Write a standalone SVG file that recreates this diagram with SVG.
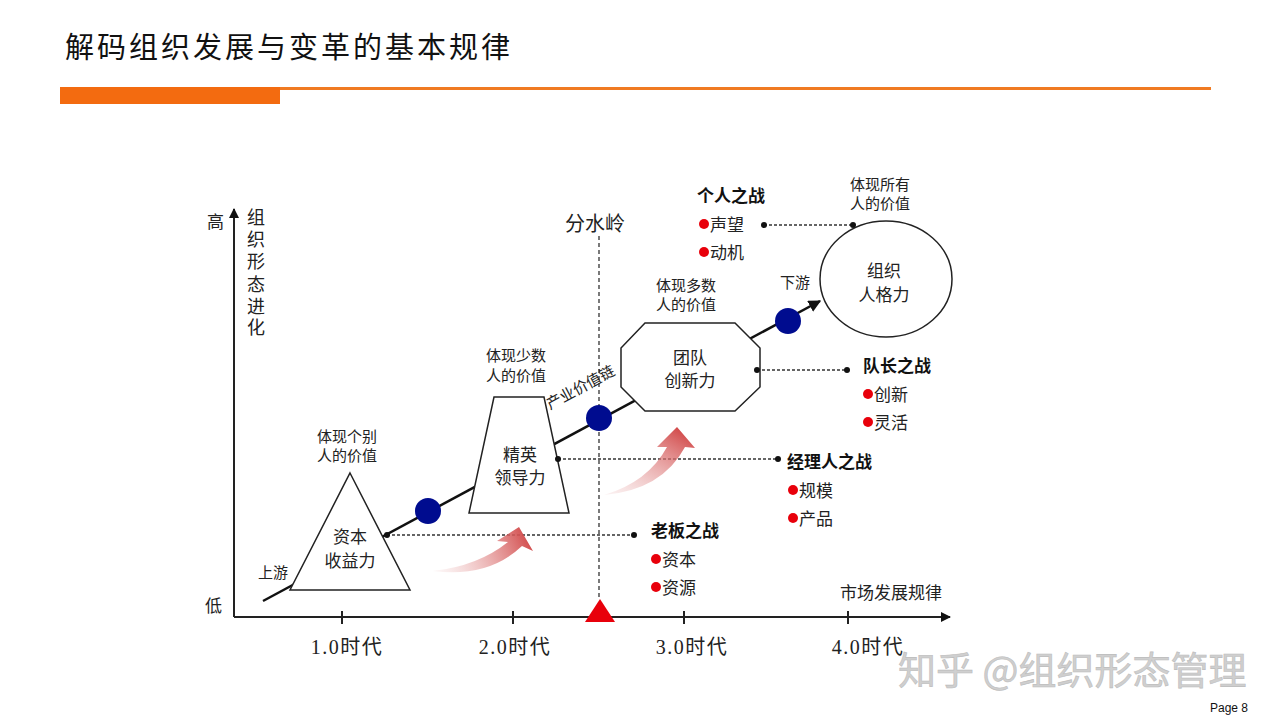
<svg xmlns="http://www.w3.org/2000/svg" width="1280" height="720" viewBox="0 0 1280 720">
<defs>
<style>
text{font-family:"Liberation Serif","Noto Sans CJK SC",serif;fill:#222}
.s15{font-size:15px}
.s17{font-size:17px}
.b{font-size:17px;font-weight:bold;fill:#111}
.c{text-anchor:middle}
.ax{stroke:#222;stroke-width:2;fill:none}
.dash{stroke:#333;stroke-width:1.3;stroke-dasharray:3 2;fill:none}
.shape{fill:#fff;stroke:#222;stroke-width:1.5}
.blue{fill:#000c8f}
.red{fill:#e8000b}
.dot{fill:#111}
</style>
<marker id="arr" viewBox="0 0 10 10" refX="9" refY="5" markerWidth="5" markerHeight="5" orient="auto"><path d="M0,0 L10,5 L0,10 Z" fill="#111"/></marker>
<linearGradient id="g1" x1="0" y1="0.6" x2="1" y2="0.4"><stop offset="0" stop-color="#e9b0b0" stop-opacity="0.15"/><stop offset="1" stop-color="#d24a4a"/></linearGradient>
<linearGradient id="g2" x1="0" y1="1" x2="0.8" y2="0"><stop offset="0" stop-color="#e9b0b0" stop-opacity="0.15"/><stop offset="1" stop-color="#d24a4a"/></linearGradient>
</defs>
<rect width="1280" height="720" fill="#fff"/>
<g id="header">
<text x="65" y="58" style="font-family:'Noto Sans CJK SC',sans-serif;font-size:29px;letter-spacing:3px;fill:#111">解码组织发展与变革的基本规律</text>
<rect x="60" y="87" width="220" height="17" fill="#f36b10"/>
<rect x="280" y="87" width="931" height="3" fill="#f07a22"/>
</g>
<g id="axes">
<line class="ax" x1="234" y1="617" x2="234" y2="209" marker-end="url(#arr)"/>
<line class="ax" x1="234" y1="617" x2="950" y2="617" marker-end="url(#arr)"/>
<line class="ax" x1="342" y1="611" x2="342" y2="624"/>
<line class="ax" x1="513" y1="611" x2="513" y2="624"/>
<line class="ax" x1="684" y1="611" x2="684" y2="624"/>
<line class="ax" x1="848" y1="611" x2="848" y2="624"/>
<text class="s17" x="207" y="228">高</text>
<text class="s17" x="205" y="612">低</text>
<g class="c" style="font-size:18px">
<text x="256" y="224">组</text><text x="256" y="246">织</text><text x="256" y="268">形</text><text x="256" y="291">态</text><text x="256" y="313">进</text><text x="256" y="334">化</text>
</g>
<text class="s17" x="840" y="599">市场发展规律</text>
<g style="font-size:20px;letter-spacing:1.5px" class="c">
<text x="347" y="654">1.0时代</text><text x="515" y="654">2.0时代</text><text x="692" y="654">3.0时代</text><text x="868" y="654">4.0时代</text>
</g>
</g>
<g id="watershed">
<line class="dash" x1="599" y1="236" x2="599" y2="600" style="stroke-dasharray:4 3"/>
<text x="565" y="231" style="font-size:20px">分水岭</text>
<polygon class="red" points="600,599 615,622 585,622"/>
</g>
<g id="connectors">
<line x1="263" y1="601" x2="820" y2="301" stroke="#111" stroke-width="2.5" marker-end="url(#arr)"/>
<line class="dash" x1="764" y1="225" x2="853" y2="225"/>
<line class="dash" x1="757" y1="370" x2="847" y2="370"/>
<line class="dash" x1="558" y1="459" x2="778" y2="459"/>
<line class="dash" x1="387" y1="535" x2="634" y2="535"/>
</g>
<g id="arrows">
<path d="M433,571 Q488,578 522,546 L533,551 L519,527 L497,541 L508,542 Q478,566 433,571 Z" fill="url(#g1)"/>
<path d="M604,495 Q662,490 685,447 L695,448 L677,427 L657,447 L667,447 Q648,482 604,495 Z" fill="url(#g2)"/>
</g>
<g id="node-capital">
<polygon class="shape" points="350,473 410,590 290,590"/>
<text class="s17 c" x="350" y="543">资本</text>
<text class="s17 c" x="350" y="567">收益力</text>
<text class="s15 c" x="347" y="442">体现个别</text>
<text class="s15 c" x="347" y="461">人的价值</text>
<text class="s15" x="258" y="578">上游</text>
</g>
<g id="node-elite">
<polygon class="shape" points="494,397 544,397 569,513 469,513"/>
<text class="s17 c" x="520" y="461">精英</text>
<text class="s17 c" x="520" y="484">领导力</text>
<text class="s15 c" x="516" y="361">体现少数</text>
<text class="s15 c" x="516" y="381">人的价值</text>
<text class="s15 c" transform="translate(583,392) rotate(-28.3)">产业价值链</text>
</g>
<g id="node-team">
<polygon class="shape" points="645,323 735,323 760,348 760,387 735,411 645,411 621,387 621,348"/>
<text class="s17 c" x="690" y="364">团队</text>
<text class="s17 c" x="690" y="387">创新力</text>
<text class="s15 c" x="686" y="291">体现多数</text>
<text class="s15 c" x="686" y="310">人的价值</text>
</g>
<g id="node-org">
<ellipse class="shape" cx="886" cy="279" rx="66" ry="58"/>
<text class="s17 c" x="884" y="277">组织</text>
<text class="s17 c" x="884" y="301">人格力</text>
<text class="s15 c" x="880" y="190">体现所有</text>
<text class="s15 c" x="880" y="209">人的价值</text>
<text class="s15" x="780" y="288">下游</text>
</g>
<g id="points">
<circle class="blue" cx="428" cy="511" r="13"/>
<circle class="blue" cx="599" cy="418" r="13"/>
<circle class="blue" cx="788" cy="321" r="13"/>
<circle class="dot" cx="764" cy="225" r="3"/><circle class="dot" cx="853" cy="225" r="3"/>
<circle class="dot" cx="757" cy="370" r="3"/><circle class="dot" cx="847" cy="370" r="3"/>
<circle class="dot" cx="558" cy="459" r="3"/><circle class="dot" cx="778" cy="459" r="3"/>
<circle class="dot" cx="387" cy="535" r="3"/><circle class="dot" cx="634" cy="535" r="3"/>
</g>
<g id="battle-individual">
<text class="b" x="697" y="202">个人之战</text>
<circle class="red" cx="704" cy="224" r="5"/><text class="s17" x="710" y="231">声望</text>
<circle class="red" cx="704" cy="252" r="5"/><text class="s17" x="710" y="259">动机</text>
</g>
<g id="battle-captain">
<text class="b" x="863" y="372">队长之战</text>
<circle class="red" cx="868" cy="394" r="5"/><text class="s17" x="874" y="401">创新</text>
<circle class="red" cx="868" cy="422" r="5"/><text class="s17" x="874" y="429">灵活</text>
</g>
<g id="battle-manager">
<text class="b" x="787" y="468">经理人之战</text>
<circle class="red" cx="793" cy="490" r="5"/><text class="s17" x="799" y="497">规模</text>
<circle class="red" cx="793" cy="518" r="5"/><text class="s17" x="799" y="525">产品</text>
</g>
<g id="battle-boss">
<text class="b" x="651" y="537">老板之战</text>
<circle class="red" cx="656" cy="559" r="5"/><text class="s17" x="662" y="566">资本</text>
<circle class="red" cx="656" cy="587" r="5"/><text class="s17" x="662" y="594">资源</text>
</g>
<g id="footer">
<text x="898" y="684" style="font-family:'Noto Sans CJK SC',sans-serif;font-size:38px;fill:#cfcfcf;stroke:#bdbdbd;stroke-width:0.6">知乎 @组织形态管理</text>
<text x="1248" y="712" style="font-family:'Liberation Sans',sans-serif;font-size:12px;text-anchor:end;fill:#111">Page 8</text>
</g>
</svg>
